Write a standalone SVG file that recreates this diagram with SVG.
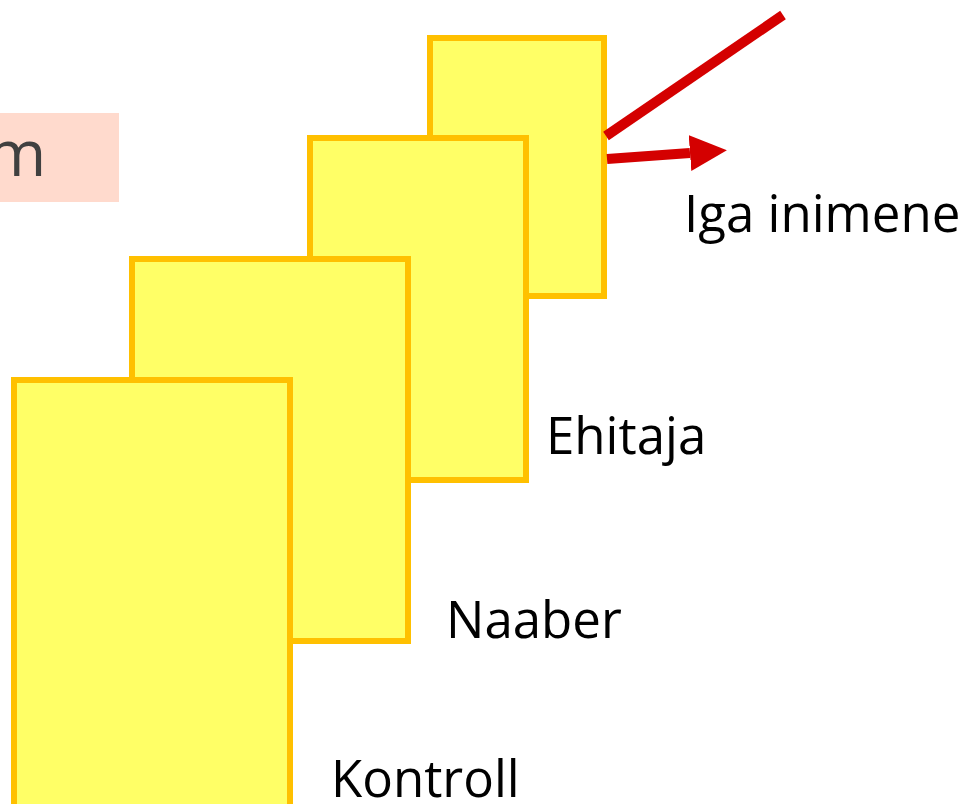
<svg xmlns="http://www.w3.org/2000/svg" width="969" height="804" viewBox="0 0 969 804">
<style>
.card{fill:#FFFF66;stroke:#FFC000;stroke-width:6}
.lbl{font-family:"Open Sans","Liberation Sans",sans-serif;font-size:51px;fill:#000}
.red{stroke:#D40000;stroke-width:10;fill:none}
</style>
<defs>
<marker id="ah" markerUnits="userSpaceOnUse" viewBox="0 0 37 36" refX="0" refY="18" markerWidth="37" markerHeight="36" orient="auto">
<path d="M0,0 L37,18 L0,36 z" fill="#D40000"/>
</marker>
</defs>
<rect x="0" y="113" width="119" height="89" fill="#FFDACD"/>
<text x="-13" y="176" font-family="'Open Sans','Liberation Sans',sans-serif" font-size="64" fill="#404040">m</text>
<g id="iga-inimene">
<rect class="card" x="430" y="38" width="174" height="258"/>
<text class="lbl" x="684" y="232">Iga inimene</text>
</g>
<g id="connectors">
<line class="red" x1="606" y1="136" x2="783" y2="15"/>
<line class="red" x1="607" y1="159" x2="690" y2="153" marker-end="url(#ah)"/>
</g>
<g id="ehitaja">
<rect class="card" x="310" y="138" width="216" height="342"/>
<text class="lbl" x="546" y="454">Ehitaja</text>
</g>
<g id="naaber">
<rect class="card" x="132" y="259" width="276" height="382"/>
<text class="lbl" x="446" y="638">Naaber</text>
</g>
<g id="kontroll">
<rect class="card" x="14" y="380" width="276" height="440"/>
<text class="lbl" x="331" y="797">Kontroll</text>
</g>
</svg>
